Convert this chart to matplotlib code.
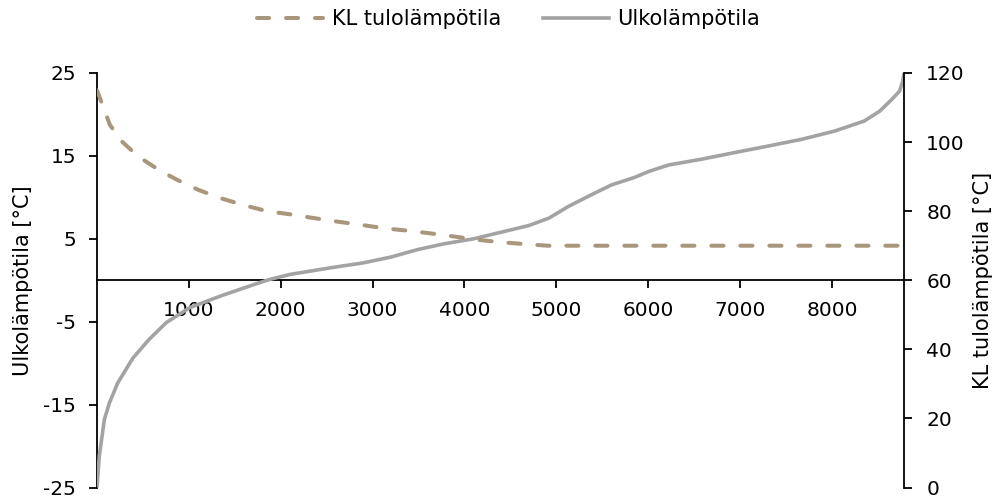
import matplotlib
matplotlib.use("Agg")
import matplotlib.pyplot as plt
from matplotlib.lines import Line2D

# Duration curves over one year (hours sorted by outdoor temperature)
hours_outdoor = [0, 25, 80, 135, 225, 390, 570, 755, 1010, 1370, 1740, 1880,
                 2100, 2540, 2900, 3200, 3490, 3780, 4100, 4400, 4700, 4920,
                 5130, 5415, 5600, 5850, 6000, 6220, 6580, 6940, 7310, 7670,
                 8030, 8350, 8520, 8650, 8735, 8770, 8784]
outdoor_temp = [-25.0, -21.2, -16.8, -14.8, -12.4, -9.4, -7.1, -5.1, -3.3, -1.8,
                -0.4, 0.1, 0.7, 1.5, 2.1, 2.8, 3.7, 4.4, 5.0, 5.8, 6.6, 7.5,
                8.9, 10.5, 11.5, 12.4, 13.1, 13.9, 14.6, 15.4, 16.2, 17.0,
                18.0, 19.2, 20.4, 21.8, 22.8, 24.0, 25.0]

hours_supply = [0, 140, 270, 450, 670, 870, 1100, 1340, 1590, 1850, 2100, 2360,
                2610, 2885, 3140, 3400, 3650, 3905, 4180, 4400, 4690, 4910, 8784]
supply_temp = [115.0, 105.0, 100.2, 95.8, 92.0, 89.1, 86.2, 83.8, 81.8, 80.0,
               79.1, 78.0, 77.0, 76.0, 75.0, 74.3, 73.5, 72.6, 71.6, 71.0,
               70.4, 70.0, 70.0]

x_ticks = [1000, 2000, 3000, 4000, 5000, 6000, 7000, 8000]
left_ticks = [-25, -15, -5, 5, 15, 25]
right_ticks = [0, 20, 40, 60, 80, 100, 120]

label_outdoor = "Ulkolämpötila"
label_supply = "KL tulolämpötila"

gray = "#a3a3a3"
tan = "#a8967d"
fs = 14.5
fs_label = 15
dash_pat = (3.0, 4.2)

plt.rcParams["font.family"] = ["DejaVu Sans"]
plt.rcParams["axes.unicode_minus"] = False

fig = plt.figure(figsize=(10.03, 4.96), dpi=100)
ax = fig.add_axes([97 / 1003, 1 - 487.5 / 496, (904 - 97) / 1003, (487.5 - 73) / 496])
ax2 = ax.twinx()

ax.plot(hours_outdoor, outdoor_temp, color=gray, lw=2.6, solid_capstyle="butt",
        zorder=3)
ax2.plot(hours_supply, supply_temp, color=tan, lw=2.9, dashes=dash_pat,
         dash_capstyle="round", zorder=2)

ax.set_xlim(0, 8784)
ax.set_ylim(-25, 25)
ax2.set_ylim(0, 120)

ax.set_xticks(x_ticks)
ax.set_yticks(left_ticks)
ax2.set_yticks(right_ticks)

for s in ["top", "right"]:
    ax.spines[s].set_visible(False)
ax.spines["bottom"].set_position(("data", 0))
for s in ["top", "left", "bottom"]:
    ax2.spines[s].set_visible(False)
for sp in [ax.spines["left"], ax.spines["bottom"], ax2.spines["right"]]:
    sp.set_linewidth(1.3)
    sp.set_color("black")

ax.tick_params(axis="y", direction="out", length=6, width=1.3, pad=9,
               labelsize=fs)
ax.tick_params(axis="x", direction="out", length=6, width=1.3, pad=9,
               labelsize=fs)
ax2.tick_params(axis="y", direction="out", length=6, width=1.3, pad=10,
                labelsize=fs)

ax.set_ylabel(label_outdoor + " [°C]", fontsize=fs_label)
ax.yaxis.set_label_coords(-0.0793, 0.5)
ax2.set_ylabel(label_supply + " [°C]", fontsize=fs_label)
ax2.yaxis.set_label_coords(1.0855, 0.5)

handles = [Line2D([], [], color=tan, lw=2.9, dashes=dash_pat,
                  dash_capstyle="round"),
           Line2D([], [], color=gray, lw=2.6)]
fig.legend(handles, [label_supply, label_outdoor], loc="center",
           bbox_to_anchor=(0.507, 0.962), ncol=2, frameon=False,
           fontsize=fs_label, handlelength=3.2, handletextpad=0.4,
           columnspacing=2.0)

fig.savefig("out.png", dpi=100)
